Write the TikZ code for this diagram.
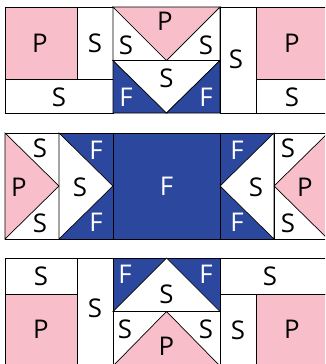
\documentclass[tikz,border=0pt]{standalone}
\usepackage{fontspec}
\setmainfont{Open Sans}
\definecolor{quiltpink}{RGB}{248,191,202}
\definecolor{quiltblue}{RGB}{44,72,158}

\begin{document}
\begin{tikzpicture}[
    x=0.03cm, y=-0.03cm,
    line width=0.6pt,
    font=\fontsize{22}{26}\selectfont,
    % Styles des pièces
    pinkpatch/.style={fill=quiltpink, draw=black},
    whitepatch/.style={fill=white, draw=black},
    bluepatch/.style={fill=quiltblue, draw=black},
    darklabel/.style={text=black, inner sep=0pt},
    lightlabel/.style={text=white, inner sep=0pt}
]
    \useasboundingbox (0,0) rectangle (325,364);
    \clip (0,0) rectangle (325,364);

    % --- RANGÉE DU HAUT ---
    \filldraw[pinkpatch] (5,7) rectangle (77,79);
    \filldraw[whitepatch] (77,7) rectangle (113,79);
    \filldraw[whitepatch] (5,79) rectangle (113,113);
    % Bloc à triangles
    \filldraw[whitepatch] (113,7) -- (113,60.5) -- (166.5,60.5) -- cycle;
    \filldraw[pinkpatch] (113,7) -- (220,7) -- (166.5,60.5) -- cycle;
    \filldraw[whitepatch] (220,7) -- (220,60.5) -- (166.5,60.5) -- cycle;
    \filldraw[bluepatch] (113,60.5) -- (113,113) -- (166.5,113) -- cycle;
    \filldraw[whitepatch] (113,60.5) -- (220,60.5) -- (166.5,113) -- cycle;
    \filldraw[bluepatch] (220,60.5) -- (220,113) -- (166.5,113) -- cycle;
    % Côté droit
    \filldraw[whitepatch] (220,7) rectangle (256.5,113);
    \filldraw[pinkpatch] (256.5,7) rectangle (328,79);
    \filldraw[whitepatch] (256.5,79) rectangle (328,113);

    \node[darklabel] (topP1) at (40,43) {P};
    \node[darklabel] (topS1) at (95,43) {S};
    \node[darklabel] (topS2) at (59,97) {S};
    \node[darklabel] (topS3) at (126,45) {S};
    \node[darklabel] (topP2) at (165,21) {P};
    \node[darklabel] (topS4) at (206,45) {S};
    \node[lightlabel] (topF1) at (126,97) {F};
    \node[darklabel] (topS5) at (166.5,78) {S};
    \node[lightlabel] (topF2) at (206,97) {F};
    \node[darklabel] (topS6) at (236,59) {S};
    \node[darklabel] (topP3) at (292,43) {P};
    \node[darklabel] (topS7) at (292,97) {S};

    % --- RANGÉE DU MILIEU ---
    \filldraw[whitepatch] (5,133) rectangle (59,239);
    \filldraw[pinkpatch] (5,133) -- (59,186) -- (5,239) -- cycle;
    \filldraw[bluepatch] (59,133) rectangle (113,239);
    \filldraw[whitepatch] (59,133) -- (113,186) -- (59,239) -- cycle;
    \filldraw[bluepatch] (113,133) rectangle (220,239);
    \filldraw[bluepatch] (220,133) rectangle (274,239);
    \filldraw[whitepatch] (274,133) -- (220,186) -- (274,239) -- cycle;
    \filldraw[whitepatch] (274,133) rectangle (328,239);
    \filldraw[pinkpatch] (328,133) -- (274,186) -- (328,239) -- cycle;

    \node[darklabel] (midS1) at (40,148) {S};
    \node[darklabel] (midP1) at (19,187) {P};
    \node[darklabel] (midS2) at (40,223) {S};
    \node[lightlabel] (midF1) at (96,150) {F};
    \node[darklabel] (midS3) at (80,187) {S};
    \node[lightlabel] (midF2) at (96,222) {F};
    \node[lightlabel] (midF3) at (166.5,186) {F};
    \node[lightlabel] (midF4) at (237,150) {F};
    \node[darklabel] (midS4) at (256,187) {S};
    \node[lightlabel] (midF5) at (237,222) {F};
    \node[darklabel] (midS5) at (288,148) {S};
    \node[darklabel] (midP2) at (305,187) {P};
    \node[darklabel] (midS6) at (288,223) {S};

    % --- RANGÉE DU BAS ---
    \filldraw[whitepatch] (5,258) rectangle (77,294);
    \filldraw[pinkpatch] (5,294) rectangle (77,366);
    \filldraw[whitepatch] (77,258) rectangle (113,366);
    % Bloc à triangles
    \filldraw[bluepatch] (113,258) rectangle (220,311.5);
    \filldraw[whitepatch] (113,311.5) -- (166.5,258) -- (220,311.5) -- cycle;
    \filldraw[whitepatch] (113,311.5) rectangle (220,366);
    \filldraw[pinkpatch] (113,366) -- (166.5,311.5) -- (220,366) -- cycle;
    % Côté droit
    \filldraw[whitepatch] (220,258) rectangle (328,294);
    \filldraw[whitepatch] (220,294) rectangle (256.5,366);
    \filldraw[pinkpatch] (256.5,294) rectangle (328,366);

    \node[darklabel] (botS1) at (41,276) {S};
    \node[darklabel] (botP1) at (41,329) {P};
    \node[darklabel] (botS2) at (95,308) {S};
    \node[lightlabel] (botF1) at (125,274) {F};
    \node[darklabel] (botS3) at (166.5,294) {S};
    \node[lightlabel] (botF2) at (206,274) {F};
    \node[darklabel] (botS4) at (125,329) {S};
    \node[darklabel] (botP2) at (166.5,346) {P};
    \node[darklabel] (botS5) at (206,329) {S};
    \node[darklabel] (botS6) at (270,276) {S};
    \node[darklabel] (botS7) at (238,330) {S};
    \node[darklabel] (botP3) at (292,329) {P};

\end{tikzpicture}
\end{document}
